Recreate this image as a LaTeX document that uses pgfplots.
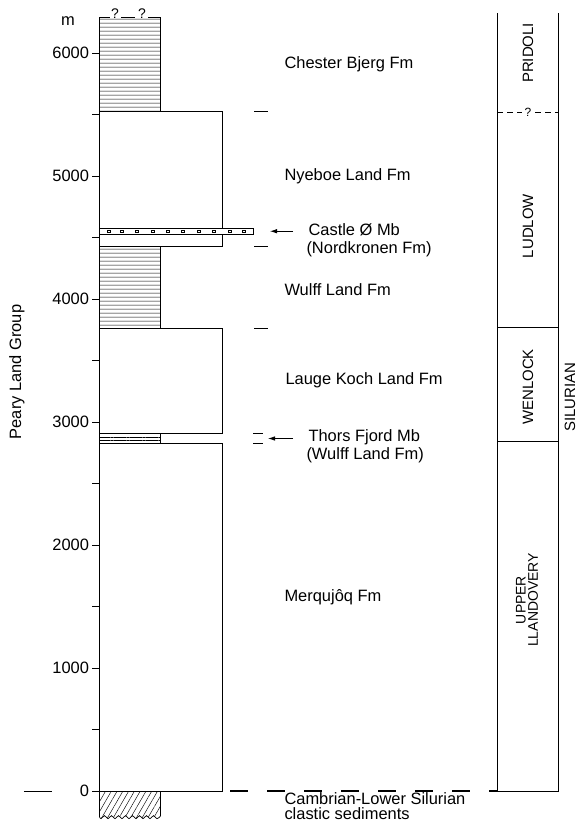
\documentclass[border=0pt]{standalone}
\usepackage{fontspec}
\setmainfont{Liberation Sans}
\usepackage{pgfplots}
\pgfplotsset{compat=1.18}
\usetikzlibrary{patterns,patterns.meta,arrows.meta}
\newcommand{\lbl}{\fontsize{16.5}{19}\selectfont}
\newcommand{\rlbl}{\fontsize{15}{17}\selectfont}
\begin{document}
\begin{tikzpicture}
\begin{axis}[
 scale only axis, width=480.5bp, height=824bp,
 xmin=99.5, xmax=580, ymin=-268, ymax=6431,
 axis x line=none, axis y line=left,
 y axis line style={draw=none,-},
 ytick={0,1000,...,6000}, minor ytick={500,1500,...,5500},
 tick align=outside, major tick length=7bp, minor tick length=7bp,
 tick style={black, line width=0.7bp},
 yticklabel style={font=\lbl},
 /pgf/number format/assume math mode=true,
 /pgf/number format/1000 sep={},
 clip=false,
]
% bounding frame (invisible)
\addplot[draw=none, forget plot] coordinates {(0,-268)(580,6431)};

% Chester Bjerg Fm (hatched, top uncertain)
\addplot[draw=none, pattern={Lines[angle=0,distance=3.9bp,line width=0.45bp]}] coordinates {(99.5,5525)(160.5,5525)(160.5,6290)(99.5,6290)} -- cycle;
\addplot[line width=0.8bp] coordinates {(99.5,6290)(99.5,5525)(160.5,5525)(160.5,6290)};
\addplot[line width=0.6bp, unbounded coords=jump] coordinates {(99.5,6290)(110,6290)(nan,nan)(121,6290)(135,6290)(nan,nan)(148,6290)(160.5,6290)};

% Nyeboe Land Fm
\addplot[line width=0.8bp, fill=white] coordinates {(99.5,4575)(222,4575)(222,5525)(99.5,5525)} -- cycle;
% Castle O Mb band
\addplot[line width=0.8bp, fill=white] coordinates {(99.5,4528)(253,4528)(253,4575)(99.5,4575)} -- cycle;
\addplot[only marks, mark=square, mark size=1.4bp, mark options={line width=0.5bp, black}] coordinates {(109,4551)(122,4551)(137,4551)(153,4551)(168,4551)(183,4551)(199,4551)(214,4551)(230,4551)(244,4551)};
\addplot[line width=0.8bp, fill=white] coordinates {(99.5,4425)(222,4425)(222,4528)(99.5,4528)} -- cycle;

% Wulff Land Fm (hatched)
\addplot[line width=0.8bp, pattern={Lines[angle=0,distance=3.9bp,line width=0.45bp]}] coordinates {(99.5,3765)(160.5,3765)(160.5,4425)(99.5,4425)} -- cycle;

% Lauge Koch Land Fm
\addplot[line width=0.8bp, fill=white] coordinates {(99.5,2905)(222,2905)(222,3765)(99.5,3765)} -- cycle;

% Thors Fjord Mb (hatched)
\addplot[line width=0.8bp, pattern={Lines[angle=0,distance=3.2bp,line width=0.45bp]}] coordinates {(99.5,2830)(160.5,2830)(160.5,2905)(99.5,2905)} -- cycle;

% Merqujoq Fm
\addplot[line width=0.8bp, fill=white] coordinates {(99.5,0)(222,0)(222,2830)(99.5,2830)} -- cycle;

% Cambrian - Lower Silurian clastic sediments (diagonal hatch, wavy base)
\addplot[draw=none, pattern={Lines[angle=60,distance=5bp,line width=0.45bp]}] coordinates {(99.5,0)(160.5,0)(160.5,-205)(157,-225)(153.5,-200)(150,-225)(146.5,-200)(143,-225)(139.5,-200)(136,-225)(132.5,-200)(129,-225)(125.5,-200)(122,-225)(118.5,-200)(115,-225)(111.5,-200)(108,-225)(104.5,-200)(101,-225)(99.5,-210)} -- cycle;
\addplot[line width=0.8bp] coordinates {(99.5,0)(99.5,-210)};
\addplot[line width=0.8bp] coordinates {(160.5,0)(160.5,-205)};
\addplot[line width=0.7bp, smooth] coordinates {(160.5,-205)(157,-225)(153.5,-200)(150,-225)(146.5,-200)(143,-225)(139.5,-200)(136,-225)(132.5,-200)(129,-225)(125.5,-200)(122,-225)(118.5,-200)(115,-225)(111.5,-200)(108,-225)(104.5,-200)(101,-225)(99.5,-210)};

% dashed base line and left marker
\addplot[line width=1.1bp, dash pattern=on 18bp off 19bp] coordinates {(230,0)(497,0)};
\addplot[line width=0.9bp] coordinates {(24,0)(52,0)};

% boundary ticks right of column
\addplot[line width=0.8bp, unbounded coords=jump] coordinates {(254,5525)(268,5525)(nan,nan)(254,4425)(268,4425)(nan,nan)(254,3765)(268,3765)(nan,nan)(253,2905)(263,2905)(nan,nan)(253,2830)(263,2830)};

% arrows
\addplot[line width=0.8bp, -{Latex[length=7bp,width=4.5bp]}] coordinates {(293,4551)(270,4551)};
\addplot[line width=0.8bp, -{Latex[length=7bp,width=4.5bp]}] coordinates {(293,2866)(268,2866)};

% chronostratigraphic column
\addplot[line width=0.8bp] coordinates {(497,6325)(497,0)(558,0)(558,6325)};
\addplot[line width=0.8bp] coordinates {(497,3770)(558,3770)};
\addplot[line width=0.8bp] coordinates {(497,2840)(558,2840)};
\addplot[line width=0.7bp, dash pattern=on 6bp off 4bp] coordinates {(497,5515)(522,5515)};
\addplot[line width=0.7bp, dash pattern=on 6bp off 4bp] coordinates {(535,5515)(558,5515)};

% texts
\node[font=\lbl] at (axis cs:68,6262) {m};
\node[font=\fontsize{14}{16}\selectfont] at (axis cs:115,6318) {?};
\node[font=\fontsize{14}{16}\selectfont] at (axis cs:142,6318) {?};
\node[rotate=90, font=\lbl] at (axis cs:17,3407) {Peary Land Group};
\node[anchor=west, font=\lbl] at (axis cs:281,5911) {Chester Bjerg Fm};
\node[anchor=west, font=\lbl] at (axis cs:281,5000) {Nyeboe Land Fm};
\node[anchor=west, font=\lbl] at (axis cs:305,4561) {Castle Ø Mb};
\node[anchor=west, font=\lbl] at (axis cs:303,4407) {(Nordkronen Fm)};
\node[anchor=west, font=\lbl] at (axis cs:281,4073) {Wulff Land Fm};
\node[anchor=west, font=\lbl] at (axis cs:282,3341) {Lauge Koch Land Fm};
\node[anchor=west, font=\lbl] at (axis cs:305,2878) {Thors Fjord Mb};
\node[anchor=west, font=\lbl] at (axis cs:303,2732) {(Wulff Land Fm)};
\node[anchor=west, font=\lbl] at (axis cs:281,1577) {Merqujôq Fm};
\node[anchor=west, font=\lbl] at (axis cs:281,-65) {Cambrian-Lower Silurian};
\node[anchor=west, font=\lbl] at (axis cs:281,-187) {clastic sediments};

\node[rotate=90, font=\rlbl] at (axis cs:528,6000) {PRIDOLI};
\node[font=\fontsize{12}{14}\selectfont] at (axis cs:528,5515) {?};
\node[rotate=90, font=\rlbl] at (axis cs:528,4593) {LUDLOW};
\node[rotate=90, font=\rlbl] at (axis cs:528,3285) {WENLOCK};
\node[rotate=90, align=center, font=\fontsize{14}{12.5}\selectfont] at (axis cs:527,1553) {UPPER\\LLANDOVERY};
\node[rotate=90, font=\rlbl] at (axis cs:570,3203) {SILURIAN};
\end{axis}
\end{tikzpicture}
\end{document}
